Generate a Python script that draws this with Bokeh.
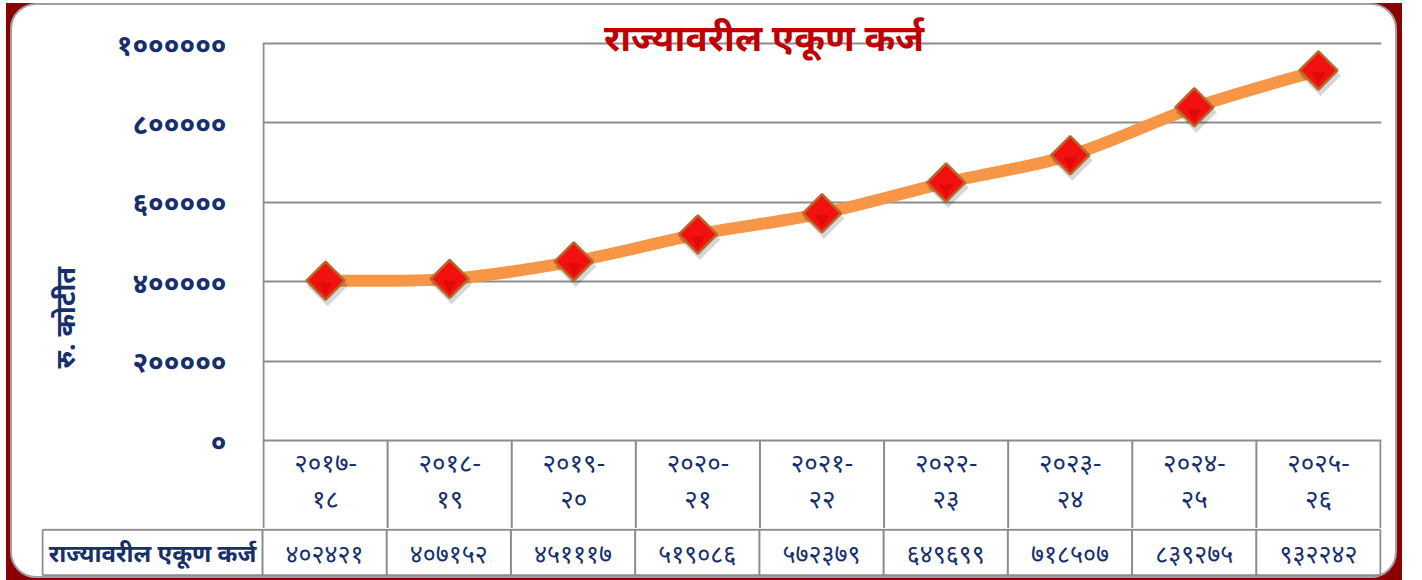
import math
from bokeh.plotting import figure
from bokeh.models import Range1d, FixedTicker, Label, ColumnDataSource, Column, Title
from bokeh.embed import file_html
from bokeh.resources import INLINE
from bokeh.core.properties import value
from bokeh.transform import dodge

# ---------------- data ----------------
categories = ["२०१७-१८", "२०१८-१९", "२०१९-२०", "२०२०-२१", "२०२१-२२",
              "२०२२-२३", "२०२३-२४", "२०२४-२५", "२०२५-२६"]
debt = [402421, 407152, 451117, 519086, 572379, 649699, 718507, 839275, 932242]
y_ticks = [0, 200000, 400000, 600000, 800000, 1000000]
y_tick_labels = ["०", "२०००००", "४०००००", "६०००००", "८०००००", "१००००००"]
title_text = "राज्यावरील एकूण कर्ज"
y_label_text = "रु. कोटीत"
row_label_text = "राज्यावरील एकूण कर्ज"

DEV = str.maketrans("0123456789", "०१२३४५६७८९")


def dev(n):
    return str(n).translate(DEV)


# ---------------- styles ----------------
NAVY = "#17306C"
GRID = "#8C8C8C"
FONT = value("Noto Sans")
N = len(categories)
xs = list(range(N))

# pixel geometry (layout only)
FIG_W = 1383
FRAME_L, FRAME_R = 250, 15          # chart frame borders
CAT_PX = (FIG_W - FRAME_L - FRAME_R) / N
PLOT_PX = 397                        # 0 .. 1,000,000
HEAD_PX = 88                         # header row height
TOP_PX = 38
UNIT = 1_000_000 / PLOT_PX           # data units per pixel
ROW_PX = 48
LABEL_PX = 220

# ---------------- chart figure ----------------
p = figure(width=FIG_W, height=TOP_PX + PLOT_PX + HEAD_PX,
           output_backend="svg", toolbar_location=None,
           x_range=Range1d(-0.5 - 1.0 / CAT_PX, N - 0.5 + 1.0 / CAT_PX),
           y_range=Range1d(-HEAD_PX * UNIT, 1_000_000 + TOP_PX * UNIT),
           min_border_left=FRAME_L - 1, min_border_right=FRAME_R - 1,
           min_border_top=0, min_border_bottom=0)
p.frame_align = False
p.background_fill_color = None
p.border_fill_color = None
p.outline_line_color = None
p.xaxis.visible = False
p.xgrid.visible = False
p.ygrid.ticker = FixedTicker(ticks=y_ticks)
p.ygrid.grid_line_color = GRID
p.ygrid.grid_line_width = 2

ax = p.yaxis[0]
ax.ticker = FixedTicker(ticks=y_ticks)
ax.major_label_overrides = {t: l for t, l in zip(y_ticks, y_tick_labels)}
ax.major_tick_line_color = None
ax.minor_tick_line_color = None
ax.axis_line_color = None
ax.major_label_standoff = 30
ax.major_label_text_font = "Noto Sans"
ax.major_label_text_font_size = "28px"
ax.major_label_text_font_style = "bold"
ax.major_label_text_color = NAVY

# y-axis label as a side title
p.add_layout(Title(text=y_label_text, align="left", offset=160, standoff=62,
                   text_color=NAVY, text_font="Noto Sans",
                   text_font_size="27px", text_font_style="bold"), "left")

# left plot edge + header row vertical separators
vx = [k - 0.5 for k in range(N + 1)]
hdr = ColumnDataSource(dict(x=vx, y0=[1_000_000] + [0] * N,
                            y1=[-HEAD_PX * UNIT] * (N + 1)))
p.segment(x0="x", y0="y0", x1="x", y1="y1", source=hdr,
          line_color=GRID, line_width=2)

# category labels (two lines)
top_txt = [c.split("-")[0] + "-" for c in categories]
bot_txt = [c.split("-")[1] for c in categories]
p.text(x=xs, y=[-21 * UNIT] * N, text=top_txt, text_align="center",
       text_baseline="middle", text_color=NAVY, text_font=FONT,
       text_font_size="26px")
p.text(x=xs, y=[-57 * UNIT] * N, text=bot_txt, text_align="center",
       text_baseline="middle", text_color=NAVY, text_font=FONT,
       text_font_size="26px")

# smooth line (Catmull-Rom -> cubic Bezier through the data points)
pts = list(zip(xs, debt))
bx0, by0, bx1, by1, c0x, c0y, c1x, c1y = [], [], [], [], [], [], [], []
for i in range(N - 1):
    p0 = pts[i - 1] if i > 0 else pts[i]
    p1 = pts[i]
    p2 = pts[i + 1]
    p3 = pts[i + 2] if i + 2 < N else pts[i + 1]
    bx0.append(p1[0]); by0.append(p1[1])
    bx1.append(p2[0]); by1.append(p2[1])
    c0x.append(p1[0] + (p2[0] - p0[0]) / 6); c0y.append(p1[1] + (p2[1] - p0[1]) / 6)
    c1x.append(p2[0] - (p3[0] - p1[0]) / 6); c1y.append(p2[1] - (p3[1] - p1[1]) / 6)
p.bezier(x0=bx0, y0=by0, x1=bx1, y1=by1, cx0=c0x, cy0=c0y, cx1=c1x, cy1=c1y,
         line_color="#F79646", line_width=12, line_cap="round")

src = ColumnDataSource(dict(x=xs, y=debt))
p.scatter(x=dodge("x", 2.0 / CAT_PX), y=dodge("y", -5 * UNIT), source=src,
          marker="square", angle=math.pi / 4, size=29,
          fill_color="#000000", fill_alpha=0.16, line_color=None)
p.scatter(x="x", y="y", source=src, marker="square", angle=math.pi / 4,
          size=27, fill_color="#F2110F", line_color="#B8682A", line_width=2.5)
p.scatter(x="x", y=dodge("y", -6 * UNIT), source=src, marker="inverted_triangle",
          size=14, fill_color="#C80000", fill_alpha=0.45, line_color=None)

# chart title
p.add_layout(Label(x=(763 - 262) / CAT_PX - 0.5, y=1_000_000 + 7 * UNIT,
                   text=title_text, text_align="center", text_baseline="middle",
                   text_color="#C00000", text_font="Noto Sans",
                   text_font_size="37px", text_font_style="bold"))

# ---------------- value row figure ----------------
x_start = -0.5 - LABEL_PX / CAT_PX
t = figure(width=FIG_W, height=ROW_PX, output_backend="svg",
           toolbar_location=None,
           x_range=Range1d(x_start - 1.0 / CAT_PX, N - 0.5 + 1.0 / CAT_PX),
           y_range=Range1d(-0.03, 1.03),
           min_border_left=FRAME_L - LABEL_PX - 1, min_border_right=FRAME_R - 1,
           min_border_top=0, min_border_bottom=0)
t.frame_align = False
t.background_fill_color = None
t.border_fill_color = None
t.outline_line_color = None
t.axis.visible = False
t.grid.visible = False

tvx = [x_start] + vx
t.segment(x0=tvx, y0=[0] * len(tvx), x1=tvx, y1=[1] * len(tvx),
          line_color=GRID, line_width=2)
t.segment(x0=[x_start, x_start], y0=[0, 1], x1=[N - 0.5, N - 0.5], y1=[0, 1],
          line_color=GRID, line_width=2)
t.text(x=[x_start + LABEL_PX / CAT_PX / 2], y=[0.5], text=[row_label_text],
       text_align="center", text_baseline="middle", text_color=NAVY,
       text_font=FONT, text_font_size="24px", text_font_style="bold")
t.text(x=xs, y=[0.5] * N, text=[dev(v) for v in debt], text_align="center",
       text_baseline="middle", text_color=NAVY, text_font=FONT,
       text_font_size="25px")

# ---------------- frame / layout ----------------
inner = Column(children=[p, t], spacing=0,
               styles={"background-color": "white",
                       "border": "2px solid #A0A0A0",
                       "border-radius": "26px"})
root = Column(children=[inner], spacing=0,
              styles={"background-color": "#8B0000",
                      "padding": "0px 5px 3px 4px",
                      "margin": "3px 0px -8px 6px"})

open("out.html", "w").write(file_html(root, INLINE))
